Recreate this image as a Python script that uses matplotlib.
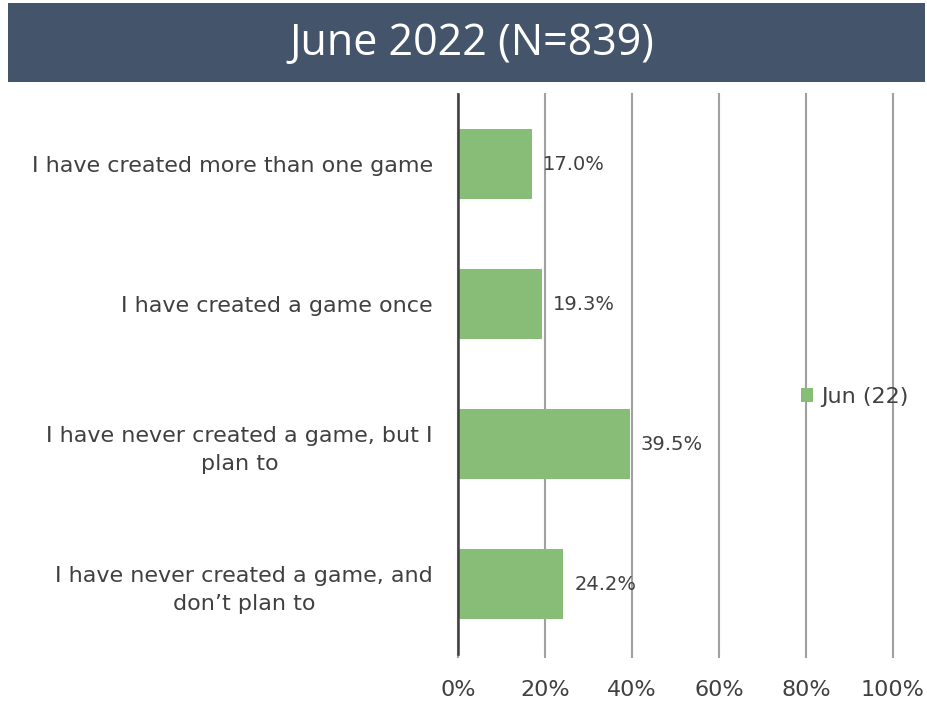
import matplotlib
matplotlib.use("Agg")
import matplotlib.pyplot as plt
from matplotlib.patches import Rectangle

categories = [
    "I have created more than one game",
    "I have created a game once",
    "I have never created a game, but I\nplan to",
    "I have never created a game, and\ndon\u2019t plan to",
]
values = [17.0, 19.3, 39.5, 24.2]
series_name = "Jun (22)"
title = "June 2022 (N=839)"
xticks = [0, 20, 40, 60, 80, 100]
xtick_labels = ["0%", "20%", "40%", "60%", "80%", "100%"]

W, H = 928, 704
fig = plt.figure(figsize=(W / 100, H / 100), dpi=100)
fig.patch.set_facecolor("white")

FONT = "DejaVu Sans"
FS = 16

# Title banner
fig.patches.append(Rectangle((8 / W, 1 - 82 / H), (925 - 8) / W, (82 - 3) / H,
                             transform=fig.transFigure, facecolor="#44546A",
                             edgecolor="none", zorder=0))
fig.text(472 / W, 1 - 44 / H, title, color="white", fontsize=31,
         family="Open Sans", ha="center", va="center")

ax = fig.add_axes([458 / W, 1 - 654 / H, (893 - 458) / W, (654 - 94) / H])
bar_color = "#88BD78"
txt_color = "#404040"
ypos = list(range(len(categories)))
ax.barh(ypos, values, height=0.5, color=bar_color, zorder=1, label=series_name)
ax.set_ylim(len(categories) - 0.5, -0.5)
ax.set_xlim(0, 100)

for y, v in zip(ypos, values):
    ax.annotate(f"{v:.1f}%", (v, y), xytext=(8, 0), textcoords="offset points",
                ha="left", va="center", fontsize=14, color=txt_color, family=FONT)

ax.set_yticks(ypos)
ax.set_yticklabels(categories, fontsize=FS, color=txt_color, family=FONT,
                   ha="right", multialignment="center", linespacing=1.5)
ax.tick_params(axis="y", length=0, pad=(458 - 433) * 72 / 100)

ax.set_xticks(xticks)
ax.set_xticklabels(xtick_labels, fontsize=FS, color=txt_color, family=FONT)
ax.tick_params(axis="x", length=3, color="#A0A0A0", width=1.5, pad=16)

ax.grid(axis="x", color="#A0A0A0", linewidth=1.5, zorder=0)
for gl in ax.get_xgridlines():
    gl.set_clip_on(False)
ax.set_axisbelow(True)
for s in ["top", "right", "bottom"]:
    ax.spines[s].set_visible(False)
ax.spines["left"].set_color("#404040")
ax.spines["left"].set_linewidth(1.8)
ax.spines["left"].set_zorder(3)

leg = fig.legend(loc="center left", bbox_to_anchor=(801 / W, 1 - 397 / H),
                 frameon=False, handlelength=0.55, handleheight=0.55,
                 handletextpad=0.35, borderpad=0, borderaxespad=0,
                 prop={"family": FONT, "size": FS})
for t in leg.get_texts():
    t.set_color(txt_color)

fig.savefig("out.png", dpi=100, facecolor="white")
